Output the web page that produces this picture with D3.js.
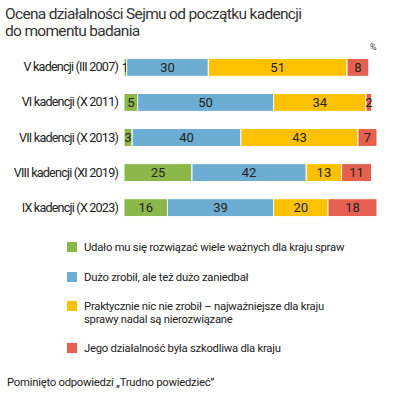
<!DOCTYPE html>
<html><head><meta charset="utf-8">
<script src="https://cdn.jsdelivr.net/npm/d3@7"></script>
<style>
html,body{margin:0;padding:0;background:#fff;}
text{font-family:Roboto, "Noto Sans", sans-serif;}
</style></head>
<body>
<svg id="c" width="397" height="397"></svg>
<script>
const categories = ["V kadencji (III 2007)","VI kadencji (X 2011)","VII kadencji (X 2013)","VIII kadencji (XI 2019)","IX kadencji (X 2023)"];
const seriesNames = ["Udało mu się rozwiązać wiele ważnych dla kraju spraw","Dużo zrobił, ale też dużo zaniedbał","Praktycznie nic nie zrobił – najważniejsze dla kraju sprawy nadal są nierozwiązane","Jego działalność była szkodliwa dla kraju"];
const good = [1,5,3,25,16];
const mixed = [30,50,40,42,39];
const nothing = [51,34,43,13,20];
const harmful = [8,2,7,11,18];
const colors = ["#8cb84b","#6eadd3","#fdc100","#e5604f"];
const legendLines = [["Udało mu się rozwiązać wiele ważnych dla kraju spraw"],["Dużo zrobił, ale też dużo zaniedbał"],["Praktycznie nic nie zrobił – najważniejsze dla kraju","sprawy nadal są nierozwiązane"],["Jego działalność była szkodliwa dla kraju"]];

const svg = d3.select("#c");
const series = [good, mixed, nothing, harmful];
const x = d3.scaleLinear().domain([0,100]).range([124,396]);
const y = d3.scaleBand().domain(categories).range([50,225]).paddingInner(0.49).paddingOuter(0.24);

svg.append("text").attr("x",5).attr("y",19).attr("font-size",15.5).attr("letter-spacing","-0.68").attr("fill","#333").text("Ocena działalności Sejmu od początku kadencji");
svg.append("text").attr("x",5).attr("y",36).attr("font-size",15.5).attr("letter-spacing","-0.68").attr("fill","#333").text("do momentu badania");
svg.append("text").attr("x",370).attr("y",50).attr("font-size",9).attr("fill","#333").text("%");

const rows = categories.map((c,i)=>{
  let acc=0;
  return series.map((s,k)=>{const d={cat:c,k,v:s[i],x0:acc,x1:acc+s[i]};acc+=s[i];return d;});
});
const g = svg.append("g");
rows.forEach(r=>{
  r.forEach(d=>{
    g.append("rect").attr("x",x(d.x0)).attr("y",y(d.cat)).attr("width",x(d.x1)-x(d.x0)).attr("height",y.bandwidth())
      .attr("fill",colors[d.k]).attr("stroke","#fff").attr("stroke-width",1);
    g.append("text").attr("x",(x(d.x0)+x(d.x1))/2).attr("y",y(d.cat)+y.bandwidth()/2).attr("dy","0.36em")
      .attr("text-anchor","middle").attr("font-size",13).attr("fill","#222").text(d.v);
  });
});
const ax = svg.append("g").attr("transform","translate(118,0)").call(d3.axisLeft(y).tickSize(0).tickPadding(0));
ax.select(".domain").remove();
ax.selectAll("text").attr("font-size",12.6).attr("fill","#222").style("font-family","Roboto").attr("letter-spacing","-0.8");

const legY = [247,277,306,348];
legendLines.forEach((lines,i)=>{
  svg.append("rect").attr("x",67).attr("y",legY[i]-5).attr("width",10).attr("height",10).attr("fill",colors[i]);
  lines.forEach((t,j)=>{
    svg.append("text").attr("x",84).attr("y",legY[i]+j*13.5).attr("dy","0.35em").attr("font-size",11.3).attr("letter-spacing","-0.25").attr("fill","#222").text(t);
  });
});
svg.append("text").attr("x",7).attr("y",382).attr("dy","0.35em").attr("font-size",11.3).attr("letter-spacing","-0.25").attr("fill","#222").text("Pominięto odpowiedzi „Trudno powiedzieć”");
</script>
</body></html>
